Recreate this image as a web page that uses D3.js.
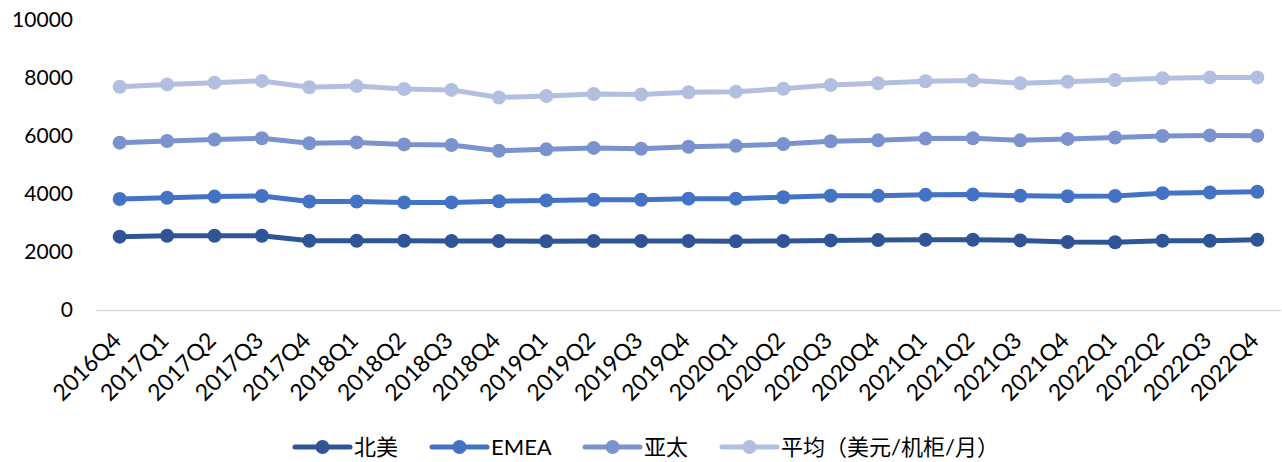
<!DOCTYPE html>
<meta charset="utf-8">
<script src="https://d3js.org/d3.v7.min.js"></script>
<style>
  body { margin: 0; background: #fff; }
  text { font-family: Lato, "Noto Sans", sans-serif; fill: #000; }
</style>
<div id="chart"></div>
<script>
// categories and series
const quarters = ["2016Q4",
  "2017Q1", "2017Q2", "2017Q3", "2017Q4",
  "2018Q1", "2018Q2", "2018Q3", "2018Q4",
  "2019Q1", "2019Q2", "2019Q3", "2019Q4",
  "2020Q1", "2020Q2", "2020Q3", "2020Q4",
  "2021Q1", "2021Q2", "2021Q3", "2021Q4",
  "2022Q1", "2022Q2", "2022Q3", "2022Q4"];

const northAmerica = [2530, 2560, 2560, 2560, 2390, 2390, 2390, 2380, 2380, 2370, 2380, 2380, 2380,
  2370, 2380, 2400, 2410, 2420, 2420, 2400, 2345, 2335, 2390, 2390, 2420];
const emea = [3830, 3870, 3910, 3930, 3740, 3740, 3710, 3710, 3750, 3780, 3800, 3800, 3840,
  3840, 3890, 3940, 3940, 3970, 3980, 3940, 3920, 3930, 4030, 4050, 4080];
const apac = [5770, 5830, 5880, 5920, 5750, 5780, 5710, 5690, 5490, 5540, 5590, 5560, 5630,
  5660, 5720, 5820, 5850, 5910, 5920, 5850, 5900, 5950, 6000, 6020, 6010];
const average = [7700, 7780, 7840, 7900, 7680, 7720, 7620, 7590, 7330, 7380, 7450, 7430, 7510,
  7530, 7630, 7760, 7820, 7890, 7910, 7820, 7870, 7930, 7990, 8020, 8020];

const seriesNames = ["北美", "EMEA", "亚太", "平均（美元/机柜/月）"];
const yTicks = [0, 2000, 4000, 6000, 8000, 10000];

const colors = ["#2f5597", "#4472c4", "#7a93ce", "#b3bfe0"];
const allSeries = [northAmerica, emea, apac, average];

const width = 1282, height = 462;

const svg = d3.select("#chart")
  .append("svg")
  .attr("width", width)
  .attr("height", height);

// scales
const x = d3.scaleBand()
  .domain(quarters)
  .range([96, 1281])
  .padding(0);

const y = d3.scaleLinear()
  .domain([0, 10000])
  .range([310, 20]);

const cx = d => x(d) + x.bandwidth() / 2;

// y axis labels (no line, no ticks)
const yAxis = svg.append("g")
  .attr("transform", "translate(73,0)")
  .call(d3.axisLeft(y).tickValues(yTicks).tickSize(0).tickPadding(0).tickFormat(d3.format("d")));
yAxis.select(".domain").remove();
yAxis.selectAll("text")
  .style("font-size", "21px")
  .style("font-family", "Lato, sans-serif")
  .attr("fill", "#000");

// x axis line at zero
const xAxis = svg.append("g")
  .attr("transform", `translate(0, ${y(0)})`)
  .call(d3.axisBottom(x).tickSize(0).tickFormat(""));
xAxis.select(".domain")
  .attr("stroke", "#d9d9d9")
  .attr("stroke-width", 1.5);

// rotated category labels
svg.append("g")
  .selectAll("text")
  .data(quarters)
  .join("text")
    .attr("transform", d => `translate(${cx(d) + 3}, 342) rotate(-45)`)
    .attr("text-anchor", "end")
    .style("font-size", "23px")
    .text(d => d);

// lines and markers
const line = d3.line()
  .x((v, i) => cx(quarters[i]))
  .y(v => y(v));

allSeries.forEach((vals, k) => {
  const g = svg.append("g");
  g.append("path")
    .datum(vals)
    .attr("fill", "none")
    .attr("stroke", colors[k])
    .attr("stroke-width", 5)
    .attr("stroke-linejoin", "round")
    .attr("d", line);
  g.selectAll("circle")
    .data(vals)
    .join("circle")
      .attr("cx", (v, i) => cx(quarters[i]))
      .attr("cy", v => y(v))
      .attr("r", 7)
      .attr("fill", colors[k]);
});

// legend
const legendX = [295, 432, 585, 722];
const legendY = 447;
const legend = svg.append("g");
seriesNames.forEach((name, k) => {
  const lg = legend.append("g").attr("transform", `translate(${legendX[k]}, ${legendY})`);
  lg.append("line")
    .attr("x1", 0).attr("x2", 55)
    .attr("y1", 0).attr("y2", 0)
    .attr("stroke", colors[k])
    .attr("stroke-width", 5)
    .attr("stroke-linecap", "round");
  lg.append("circle")
    .attr("cx", 27.5).attr("cy", 0).attr("r", 7)
    .attr("fill", colors[k]);
  lg.append("text")
    .attr("x", 59)
    .attr("y", 0)
    .attr("dy", "0.36em")
    .style("font-size", "22px")
    .style("font-family", "Lato, 'Noto Sans CJK SC', sans-serif")
    .text(name);
});
</script>
